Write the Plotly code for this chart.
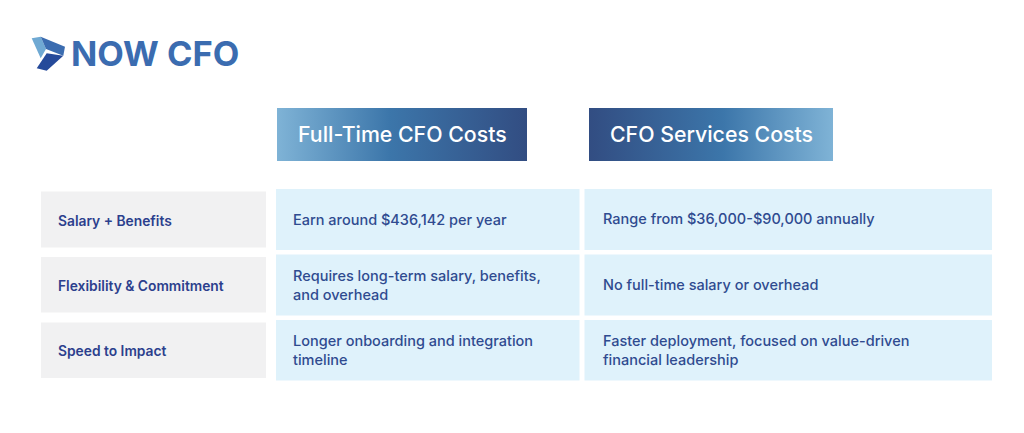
import plotly.graph_objects as go

# table text
header_titles = ["Full-Time CFO Costs", "CFO Services Costs"]
row_labels = ["Salary + Benefits", "Flexibility & Commitment", "Speed to Impact"]
fulltime_costs = [
    "Earn around $436,142 per year",
    "Requires long-term salary, benefits,<br>and overhead",
    "Longer onboarding and integration<br>timeline",
]
services_costs = [
    "Range from $36,000-$90,000 annually",
    "No full-time salary or overhead",
    "Faster deployment, focused on value-driven<br>financial leadership",
]
logo_text = "NOW CFO"

# layout in page pixels
FONT = "Inter"
NAVY = "#2c3f8d"
BODY = "#2f4b90"
gray_rows = [(191.5, 247.5), (257, 312.5), (322.5, 378)]
blue_rows = [(189, 250), (254.5, 315.5), (320, 380.5)]
gray_x = (41, 266)
blue_cols = [(276, 579.5), (584.5, 992)]
header_boxes = [(277, 527), (589, 833)]
header_y = (108, 161)
header_scales = [
    [[0, "#7fb3d6"], [0.45, "#3c76aa"], [1, "#324d82"]],
    [[0, "#324d82"], [0.55, "#3c76aa"], [1, "#7fb3d6"]],
]

fig = go.Figure()


def add_poly(xs, ys, color):
    fig.add_trace(go.Scatter(x=xs, y=ys, mode="lines", fill="toself", fillcolor=color,
                             line=dict(width=0), hoverinfo="skip"))


def add_text(x, y, text, size, color, anchor="left", weight=400):
    fig.add_annotation(x=x, y=y, text=text, showarrow=False, xanchor=anchor, yanchor="middle", align="left",
                       font=dict(family=FONT, size=size, color=color, weight=weight))


def add_rect(x0, x1, y0, y1, color):
    fig.add_shape(type="rect", x0=x0, x1=x1, y0=y0, y1=y1, fillcolor=color, line_width=0, layer="below")


# header boxes with gradient
for (x0, x1), title, scale in zip(header_boxes, header_titles, header_scales):
    fig.add_trace(go.Scatter(x=[x0, x1, x1, x0, x0], y=[header_y[0], header_y[0], header_y[1], header_y[1], header_y[0]],
                             mode="lines", fill="toself", line=dict(width=0), hoverinfo="skip",
                             fillgradient=dict(type="horizontal", colorscale=scale)))
    add_text((x0 + x1) / 2, sum(header_y) / 2 - 0.5, title, 21.3, "#ffffff", "center", 500)

# rows
for i in range(len(row_labels)):
    add_rect(gray_x[0], gray_x[1], gray_rows[i][0], gray_rows[i][1], "#f1f1f2")
    add_rect(blue_cols[0][0], blue_cols[0][1], blue_rows[i][0], blue_rows[i][1], "#dff2fb")
    add_rect(blue_cols[1][0], blue_cols[1][1], blue_rows[i][0], blue_rows[i][1], "#dff2fb")
    y_mid = sum(blue_rows[i]) / 2
    add_text(56, sum(gray_rows[i]) / 2 + 1, row_labels[i], 13.8, NAVY, weight=600)
    add_text(291, y_mid - 0.5, fulltime_costs[i], 14.5, BODY, weight=500)
    add_text(601, y_mid - 0.5, services_costs[i], 14.5, BODY, weight=500)

# logo mark
add_poly([31.7, 40.7, 46, 40.7, 31.7], [38.3, 36.7, 49, 58.3, 38.3], "#6fa9d3")
add_poly([40.7, 65, 63.3, 46], [36.7, 46.7, 55.7, 49], "#3b6cb0")
add_poly([36.7, 46.7, 63.3, 46.7], [68.3, 70.7, 55.7, 53.3], "#254a9a")
add_text(69, 53.5, logo_text, 34.5, "#3b6cb0", weight=700)

fig.update_layout(
    width=1024, height=433, margin=dict(l=0, r=0, t=0, b=0),
    paper_bgcolor="white", plot_bgcolor="white", showlegend=False,
    xaxis=dict(range=[0, 1024], visible=False, fixedrange=True),
    yaxis=dict(range=[433, 0], visible=False, fixedrange=True),
)
# page body has a default margin, drop it so the picture sits at 0,0
fig.write_html("out.html", post_script="document.body.style.margin='0';", config={"displayModeBar": False})
